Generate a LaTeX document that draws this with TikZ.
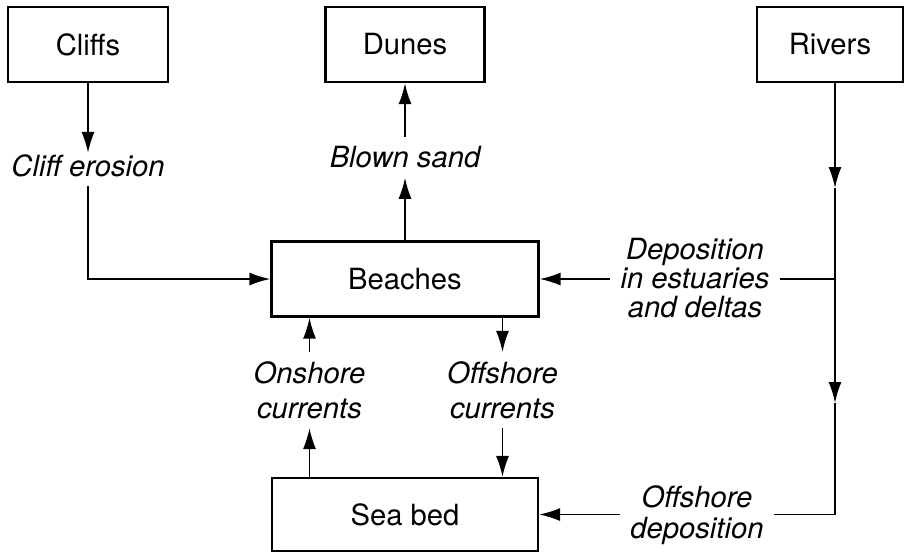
\documentclass[tikz,border=0pt]{standalone}
\usepackage{fontspec}
\setmainfont{TeX Gyre Heros}
\usetikzlibrary{arrows.meta, positioning, calc}

\begin{document}
\begin{tikzpicture}[x=0.5pt, y=-0.5pt,
  font=\fontsize{14.6pt}{14.5pt}\selectfont,
  box/.style={draw, line width=1.1pt, minimum height=37.5pt, inner sep=0pt},
  lbl/.style={align=center, inner xsep=5pt, inner ysep=4.5pt, font=\fontsize{14.6pt}{14.5pt}\selectfont\itshape},
  arr/.style={line width=0.9pt, -{Latex[length=10.5pt, width=6.5pt]}},
  ln/.style={line width=0.9pt}]
\useasboundingbox (0,0) rectangle (906,554);

% sources and sinks
\node[box, minimum width=80pt] (cliffs) at (88,44.5) {Cliffs};
\node[box, minimum width=79.5pt] (dunes) at (405,44.5) {Dunes};
\node[box, minimum width=73pt] (rivers) at (830,44.5) {Rivers};
\node[box, minimum width=133.5pt] (beaches) at (405,279) {Beaches};
\node[box, minimum width=133pt, minimum height=36.5pt] (seabed) at (405,514.5) {Sea bed};

% processes
\node[lbl] (erosion) at (88,165.5) {Cliff erosion};
\node[lbl] (blown) at (405,157.5) {Blown sand};
\node[lbl] (deposit) at (695,278.5) {Deposition\\in estuaries\\and deltas};
\node[lbl] (onshore) at (309.5,390) {Onshore\\[3pt]currents};
\node[lbl] (offshore) at (502.5,390) {Offshore\\[3pt]currents};
\node[lbl] (offdep) at (697,515) {Offshore\\[1pt]deposition};

% river line
\coordinate (fork) at (835,279);
\coordinate (tipA) at (835,188);
\coordinate (tipB) at (835,403);
\coordinate (bend) at (835,514.5);

\draw[arr, shorten >=-4pt] (cliffs) -- (erosion);
\draw[arr] (erosion.south) |- (beaches.west);
\draw[arr] (beaches) -- (blown);
\draw[arr] (blown) -- (dunes);

\draw[arr] (rivers.south -| fork) -- (tipA);
\draw[ln] (tipA) -- (fork);
\draw[arr] (fork) -- (tipB);
\draw[ln] (tipB) -- (bend) -- (offdep.east |- bend);
\draw[ln] (fork) -- (deposit.east |- fork);
\draw[arr] (deposit.west |- fork) -- (beaches.east |- fork);
\draw[arr] (offdep.west |- bend) -- (seabed.east);

\draw[arr] (seabed.north -| onshore) -- (onshore.south);
\draw[arr] (onshore.north) -- (onshore.north |- beaches.south);
\draw[arr] (beaches.south -| offshore) -- (offshore.north);
\draw[arr] (offshore.south) -- (offshore.south |- seabed.north);
\end{tikzpicture}
\end{document}
